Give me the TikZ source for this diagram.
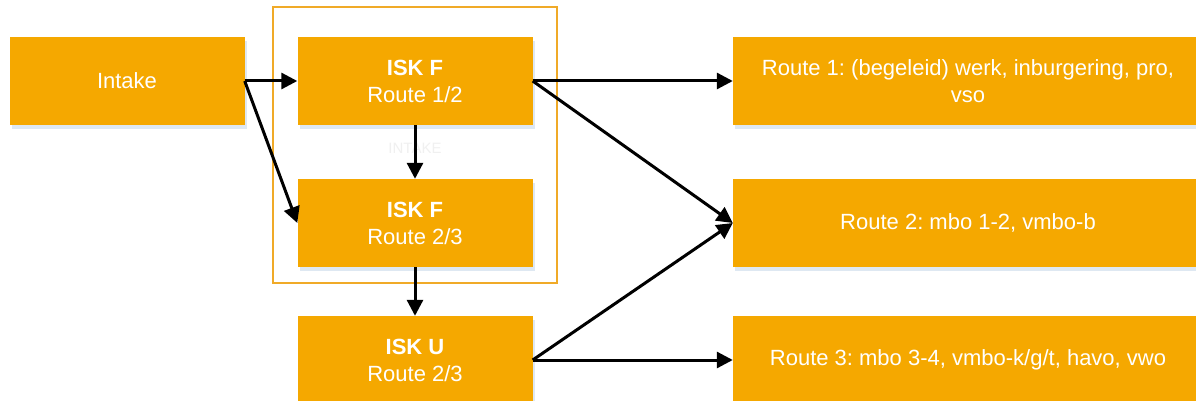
\documentclass[tikz,border=0pt]{standalone}
\usepackage{fontspec}
\setmainfont{Liberation Sans}
\usetikzlibrary{arrows.meta}
\frenchspacing
\definecolor{boxorange}{RGB}{245,168,0}
\definecolor{grpline}{RGB}{240,170,40}
\definecolor{shadowc}{RGB}{222,232,242}
\tikzset{
  box/.style={rectangle, fill=boxorange, text=white, minimum height=88pt, inner sep=0pt,
    align=center, font=\fontsize{22}{27}\selectfont},
  smallbox/.style={box, minimum width=235pt},
  widebox/.style={box, minimum width=470pt},
  conn/.style={draw=black, line width=3pt, -{Triangle[length=16pt,width=16pt]}},
}
\begin{document}
\begin{tikzpicture}[x=1pt,y=-1pt]
\useasboundingbox (0,0) rectangle (1196,401);
\fill[white] (0,0) rectangle (1196,401);
% group frame
\node[draw=grpline, line width=1.2pt, minimum width=284pt, minimum height=276pt, inner sep=0pt] (grp) at (415,145) {};
\node[font=\fontsize{15}{16}\selectfont] (grplabel) at (415,148) {\textcolor{gray!12}{INTAKE}};
% shadows
\foreach \cx/\cy/\w in {127/81/235, 415/81/235, 415/223/235, 415/360/235, 968/81/470, 968/223/470, 968/360/470}{
  \fill[shadowc] (\cx-\w/2+2, \cy-44+4) rectangle (\cx+\w/2+2, \cy+44+4);
}
% boxes
\node[smallbox] (intake) at (127,81) {Intake};
\node[smallbox] (iskf12) at (415,81) {\textbf{ISK F}\\Route 1/2};
\node[smallbox] (iskf23) at (415,223) {\textbf{ISK F}\\Route 2/3};
\node[smallbox] (isku) at (415,360) {\textbf{ISK U}\\Route 2/3};
\node[widebox] (r1) at (968,81) {Route 1: (begeleid) werk, inburgering, pro,\\vso};
\node[widebox] (r2) at (968,223) {Route 2: mbo 1-2, vmbo-b};
\node[widebox] (r3) at (968,360) {Route 3: mbo 3-4, vmbo-k/g/t, havo, vwo};
% connectors
\draw[conn] (intake.east) -- (iskf12.west);
\draw[conn] (intake.east) -- (iskf23.west);
\draw[conn] (iskf12.south) -- (iskf23.north);
\draw[conn] (iskf23.south) -- (isku.north);
\draw[conn] (iskf12.east) -- (r1.west);
\draw[conn] (iskf12.east) -- (r2.west);
\draw[conn] (isku.east) -- (r2.west);
\draw[conn] (isku.east) -- (r3.west);
\end{tikzpicture}
\end{document}
